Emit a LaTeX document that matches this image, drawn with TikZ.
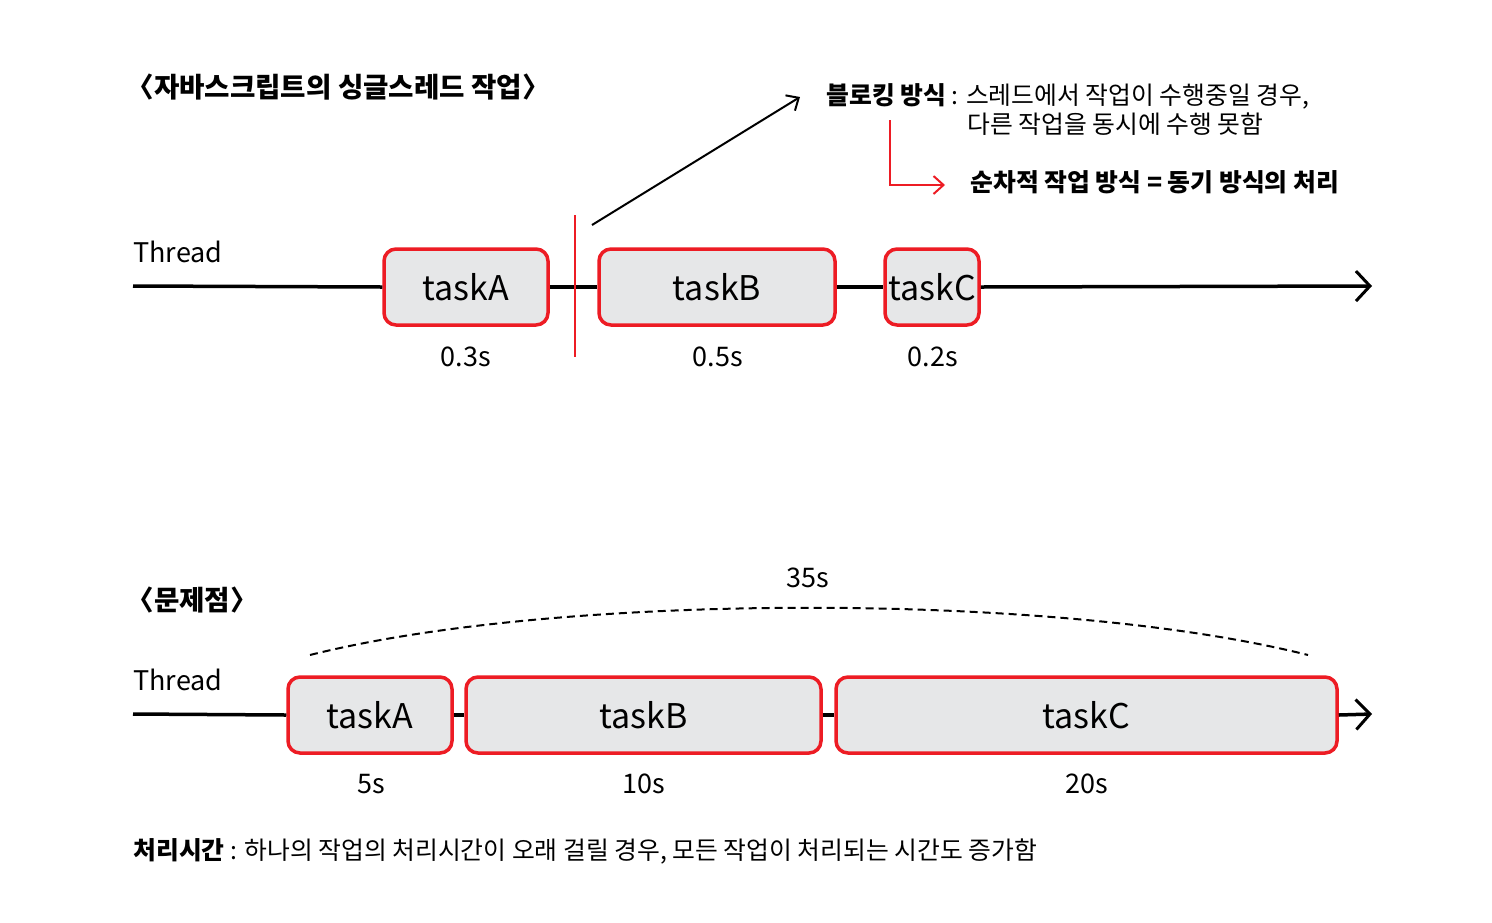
\documentclass[tikz,border=0pt]{standalone}
\usepackage{fontspec}
\setmainfont{Noto Sans CJK KR}
\usetikzlibrary{arrows.meta}
\definecolor{taskred}{HTML}{ED1C24}
\definecolor{taskgray}{HTML}{E6E7E8}

\begin{document}
\begin{tikzpicture}[x=0.5pt, y=-0.5pt,
  task/.style={draw=taskred, line width=1.75pt, fill=taskgray, rounded corners=6pt,
    minimum height=38pt, inner sep=0pt, font=\fontsize{17}{20}\selectfont},
  lbl/.style={inner sep=0pt, font=\fontsize{13.5}{16}\selectfont},
  note/.style={anchor=west, inner sep=0pt, font=\fontsize{12.4}{15}\selectfont},
  heading/.style={anchor=west, inner sep=0pt, font=\fontsize{13.8}{16}\selectfont\bfseries},
  thread/.style={line width=1.75pt},
  tip/.style={-{Straight Barb[length=7pt,width=15pt,line width=1.5pt]}},
  smalltip/.style={-{Straight Barb[length=5pt,width=9pt]}},
]
  \useasboundingbox (0,0) rectangle (1492,922);

  % Single thread of JavaScript
  \node[heading] (title1) at (126,87) {〈자바스크립트의 싱글스레드 작업〉};
  \node[lbl, anchor=west] (thr1) at (133,252) {Thread};
  \coordinate (s1) at (133,286);
  \coordinate (e1) at (1372,286);

  \node[task, minimum width=82pt] (topA) at (466,287) {taskA};
  \node[task, minimum width=118pt] (topB) at (717,287) {taskB};
  \node[task, minimum width=47pt] (topC) at (932,287) {taskC};

  \draw[thread] (s1) -- (topA.west);
  \draw[thread] (topA.east) -- (topB.west);
  \draw[thread] (topB.east) -- (topC.west);
  \draw[thread, tip] (topC.east) -- (e1);

  \node[lbl] (timeA1) at (466,357) {0.3s};
  \node[lbl] (timeB1) at (718,357) {0.5s};
  \node[lbl] (timeC1) at (933,357) {0.2s};

  % Blocking mark
  \coordinate (cutT) at (575,215);
  \coordinate (cutB) at (575,357);
  \draw[taskred, line width=1pt] (cutT) -- (cutB);
  \coordinate (blkS) at (592,225);
  \coordinate (blkE) at (800,97);
  \draw[line width=1pt, smalltip] (blkS) -- (blkE);

  \node[note] (blk1) at (826,96) {\textbf{블로킹 방식} : 스레드에서 작업이 수행중일 경우,};
  \node[note] (blk2) at (967,124) {다른 작업을 동시에 수행 못함};

  \coordinate (elbS) at (890,120);
  \coordinate (elbE) at (945,185);
  \draw[taskred, line width=1pt, smalltip] (elbS) |- (elbE);
  \node[note, font=\fontsize{12.4}{15}\selectfont\bfseries] (seq) at (970,182) {순차적 작업 방식 = 동기 방식의 처리};

  % Problem
  \node[heading] (title2) at (126,600) {〈문제점〉};
  \node[lbl] (total) at (808,578) {35s};
  \coordinate (arcL) at (310,655);
  \coordinate (arcR) at (1308,655);
  \draw[line width=1pt, dash pattern=on 4pt off 2.5pt] (arcL) .. controls (560,592) and (1058,592) .. (arcR);

  \node[lbl, anchor=west] (thr2) at (133,680) {Thread};
  \coordinate (s2) at (133,714);
  \coordinate (e2) at (1372,714);

  \node[task, minimum width=82pt] (botA) at (370,715) {taskA};
  \node[task, minimum width=177.5pt] (botB) at (643.5,715) {taskB};
  \node[task, minimum width=250.5pt] (botC) at (1086.5,715) {taskC};

  \draw[thread] (s2) -- (botA.west);
  \draw[thread] (botA.east) -- (botB.west);
  \draw[thread] (botB.east) -- (botC.west);
  \draw[thread, tip] (botC.east) -- (e2);

  \node[lbl] (timeA2) at (371,784) {5s};
  \node[lbl] (timeB2) at (644,784) {10s};
  \node[lbl] (timeC2) at (1087,784) {20s};

  \node[note] (cost) at (133,851) {\textbf{처리시간} : 하나의 작업의 처리시간이 오래 걸릴 경우, 모든 작업이 처리되는 시간도 증가함};
\end{tikzpicture}
\end{document}
